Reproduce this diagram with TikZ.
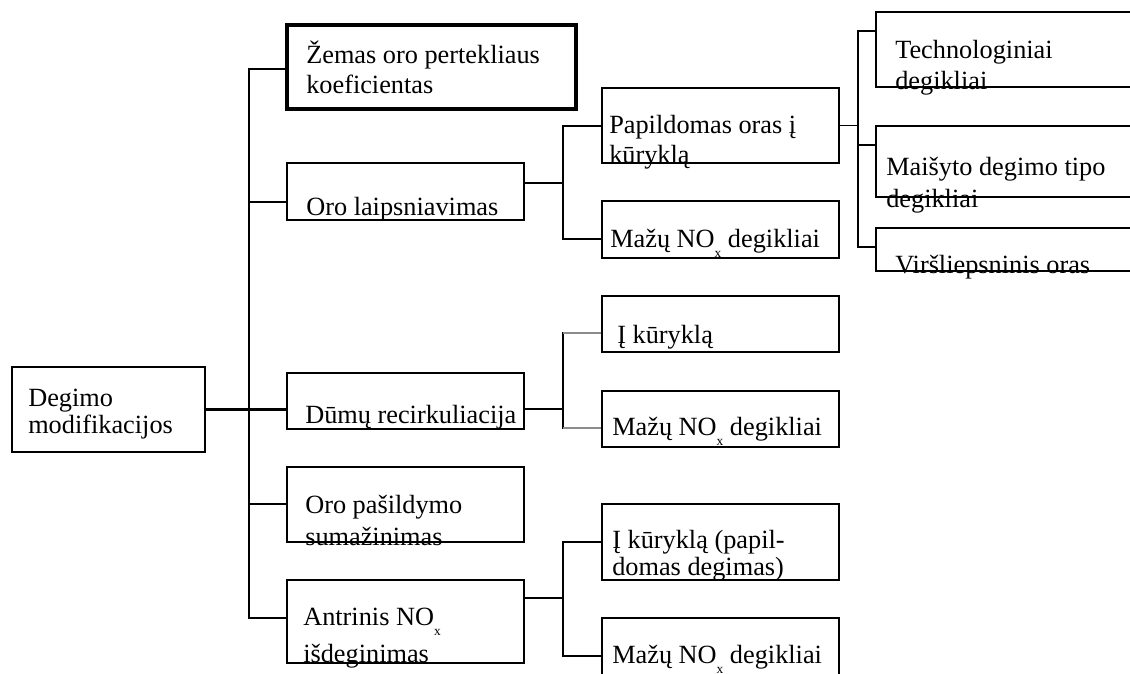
\documentclass[tikz,border=0pt]{standalone}
\usepackage{fontspec}
\setmainfont{Liberation Serif}
\usetikzlibrary{fit}
\newcommand{\subx}{\raisebox{-7.8pt}{\fontsize{9.5pt}{10pt}\selectfont x}}
\begin{document}
\begin{tikzpicture}[x=0.025cm, y=-0.025cm,
  box/.style={draw, line width=1.85pt, inner sep=0pt, rectangle},
  boxthick/.style={box, line width=2.3pt},
  txt/.style={anchor=base west, inner sep=0pt, font=\fontsize{18.7pt}{22pt}\selectfont},
  conn/.style={line width=1.4pt, line cap=rect},
  thin/.style={line width=0.8pt, draw=black!45}]
\useasboundingbox (0,0) rectangle (1130,673);
\clip (0,0) rectangle (1130,673);

% boxes
\node[box, fit={(12,367) (205,452)}] (D) {};
\node[boxthick, fit={(287,25) (576,109)}] (Z) {};
\node[box, fit={(287,163) (524,220)}] (OL) {};
\node[box, fit={(287,373) (524,429)}] (Dm) {};
\node[box, fit={(287,467) (524,542)}] (OP) {};
\node[box, fit={(287,580) (524,663)}] (AN) {};
\node[box, fit={(602,88) (839,163)}] (PO) {};
\node[box, fit={(602,201) (839,258)}] (MN1) {};
\node[box, fit={(602,296) (839,352)}] (IK) {};
\node[box, fit={(602,391) (839,447)}] (MN2) {};
\node[box, fit={(602,504) (839,580)}] (IKP) {};
\node[box, fit={(602,618) (839,720)}] (MN3) {};
\node[box, fit={(876,12) (1170,87)}] (T) {};
\node[box, fit={(876,126) (1170,197)}] (M) {};
\node[box, fit={(876,228) (1170,271)}] (V) {};

% texts
\node[txt] (tD1) at (28,406) {Degimo};
\node[txt] (tD2) at (28,433) {modifikacijos};
\node[txt] (tZ1) at (306,63) {Žemas oro pertekliaus};
\node[txt] (tZ2) at (306,93) {koeficientas};
\node[txt] (tOL) at (306,215) {Oro laipsniavimas};
\node[txt] (tDm) at (305,423) {Dūmų recirkuliacija};
\node[txt] (tOP1) at (305,513) {Oro pašildymo};
\node[txt] (tOP2) at (305,545) {sumažinimas};
\node[txt] (tAN1) at (303,625) {Antrinis NO\subx};
\node[txt] (tAN2) at (303,662) {išdeginimas};
\node[txt] (tPO1) at (609,133) {Papildomas oras į};
\node[txt] (tPO2) at (609,163) {kūryklą};
\node[txt] (tMN1) at (610,247) {Mažų NO\subx{} degikliai};
\node[txt] (tIK) at (617,343) {Į kūryklą};
\node[txt] (tMN2) at (612,435) {Mažų NO\subx{} degikliai};
\node[txt] (tIKP1) at (612,548) {Į kūryklą (papil-};
\node[txt] (tIKP2) at (612,575) {domas degimas)};
\node[txt] (tMN3) at (612,663) {Mažų NO\subx{} degikliai};
\node[txt] (tT1) at (895,58) {Technologiniai};
\node[txt] (tT2) at (895,89) {degikliai};
\node[txt] (tM1) at (886,175) {Maišyto degimo tipo};
\node[txt] (tM2) at (886,207) {degikliai};
\node[txt] (tV) at (895,273) {Viršliepsninis oras};

% main trunk
\coordinate (jTop) at (249,69);
\coordinate (jOL) at (249,202);
\coordinate (jOP) at (249,504);
\coordinate (jBot) at (249,618);
\draw[conn] (jTop) -- (jBot);
\draw[conn] (jTop) -- (Z.west |- jTop);
\draw[conn] (jOL) -- (OL.west |- jOL);
\draw[conn, line width=1.8pt] (D.east) -- (Dm.west |- D.east);
\draw[conn] (jOP) -- (OP.west |- jOP);
\draw[conn] (jBot) -- (AN.west |- jBot);

% air staging branch
\coordinate (aMid) at (563,183);
\coordinate (aTop) at (563,126);
\coordinate (aBot) at (563,239);
\draw[conn, line width=1.8pt] (OL.east |- aMid) -- (aMid);
\draw[conn] (aTop) -- (aBot);
\draw[conn] (aTop) -- (PO.west |- aTop);
\draw[conn] (aBot) -- (MN1.west |- aBot);

% additional air branch
\coordinate (bTop) at (858,31);
\coordinate (bMid) at (858,145);
\coordinate (bBot) at (858,247);
\draw[conn] (PO.east) -- (PO.east -| bTop);
\draw[conn] (bTop) -- (bBot);
\draw[conn] (bTop) -- (T.west |- bTop);
\draw[conn] (bMid) -- (M.west |- bMid);
\draw[conn] (bBot) -- (V.west |- bBot);

% flue gas recirculation branch
\coordinate (cMid) at (563,409);
\coordinate (cTop) at (563,333);
\coordinate (cBot) at (563,428);
\draw[conn, line width=1.8pt] (Dm.east |- cMid) -- (cMid);
\draw[conn] (cTop) -- (cBot);
\draw[thin] (cTop) -- (IK.west |- cTop);
\draw[thin] (cBot) -- (MN2.west |- cBot);

% reburning branch
\coordinate (dMid) at (563,598);
\coordinate (dTop) at (563,542);
\coordinate (dBot) at (563,656);
\draw[conn] (AN.east |- dMid) -- (dMid);
\draw[conn] (dTop) -- (dBot);
\draw[conn] (dTop) -- (IKP.west |- dTop);
\draw[conn] (dBot) -- (MN3.west |- dBot);
\end{tikzpicture}
\end{document}
